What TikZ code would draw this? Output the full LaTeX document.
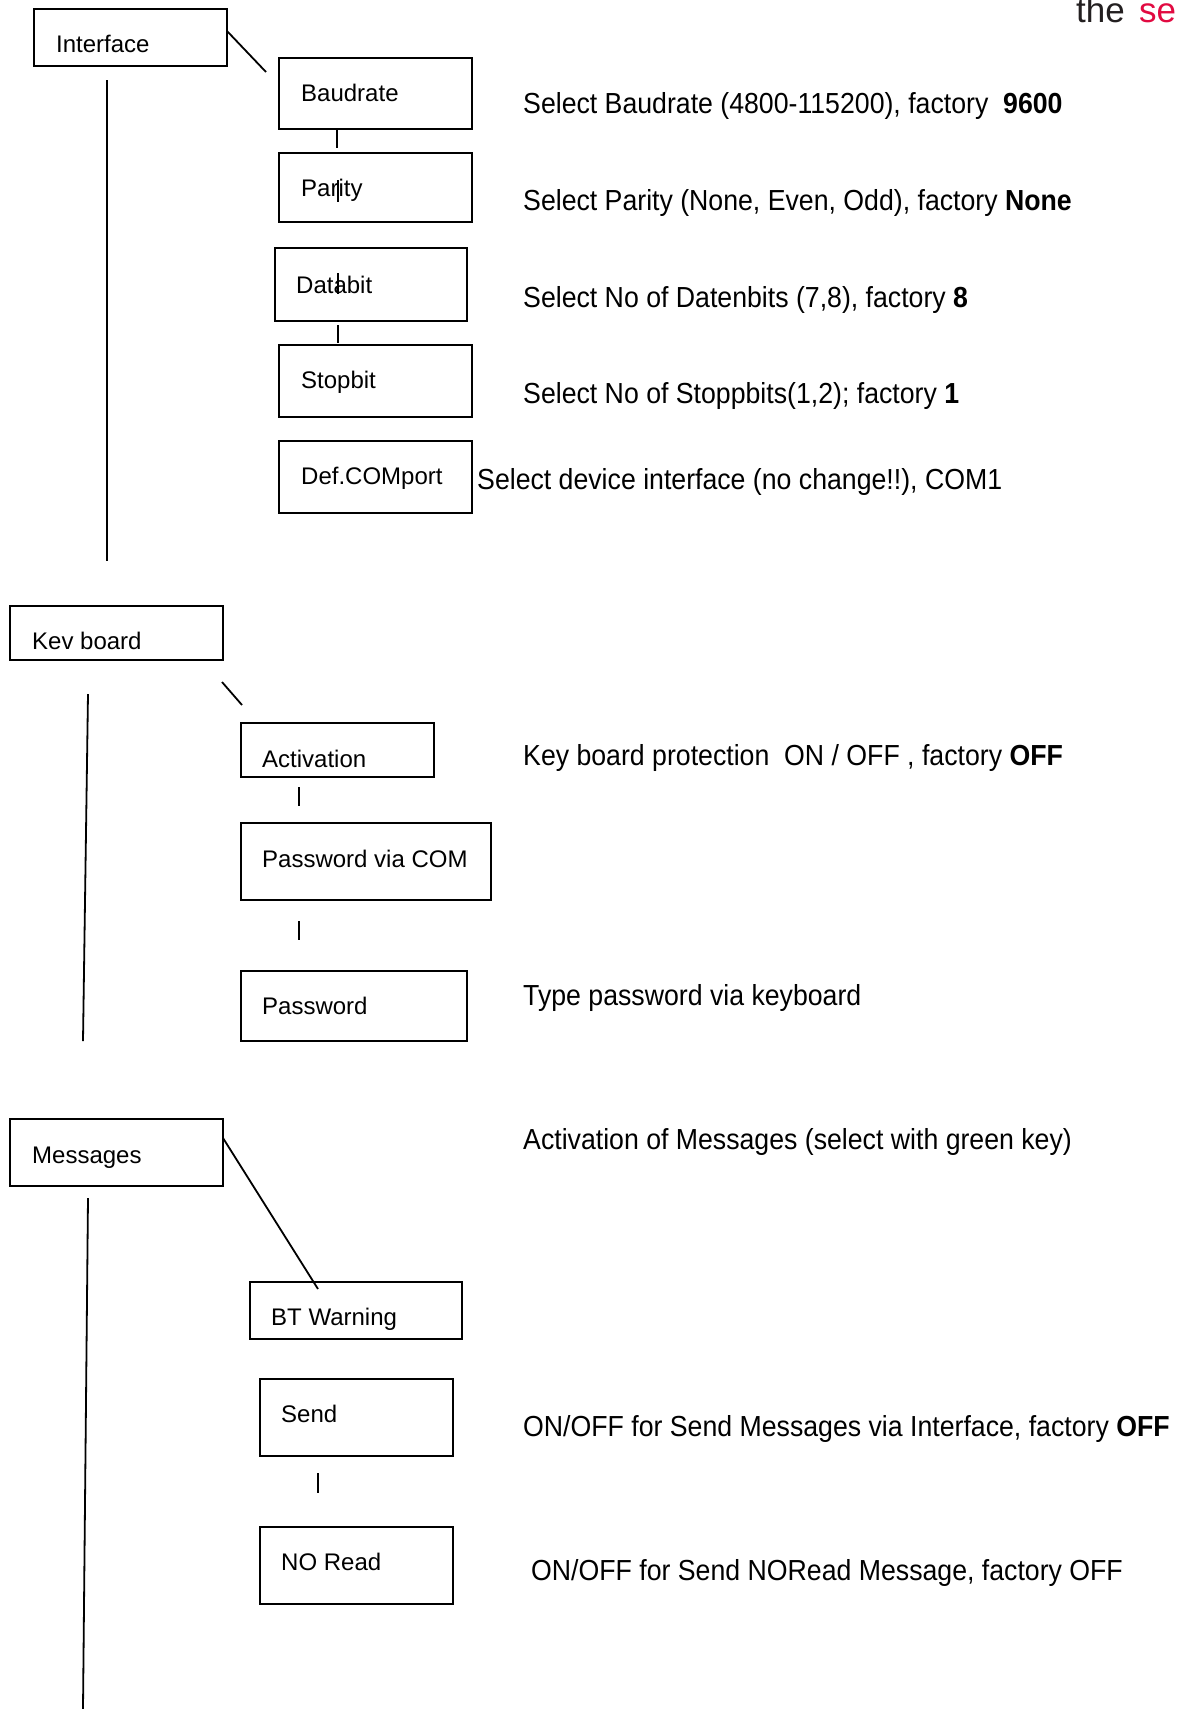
\documentclass[tikz,border=0pt]{standalone}
\usepackage{fontspec}
\setmainfont{Liberation Sans}
\newfontfamily\descfont{Liberation Sans}[FakeStretch=0.92]
\definecolor{logored}{RGB}{225,10,65}
\definecolor{logogray}{RGB}{35,31,32}
\tikzset{
  box/.style={draw, line width=1.8pt, anchor=north west, inner sep=0pt, outer sep=0pt},
  lbl/.style={anchor=base west, inner sep=0pt, font=\fontsize{24}{28}\selectfont},
  desc/.style={anchor=base west, inner sep=0pt, font=\descfont\fontsize{29}{34}\selectfont},
  conn/.style={line width=1.8pt},
}
% name, x1, y1, x2, y2, text x, baseline, text
\newcommand\mybox[8]{%
  \node[box, minimum width={(#4-#2)*1pt}, minimum height={(#5-#3)*1pt}] (#1) at (#2,#3) {};
  \node[lbl] (#1-t) at (#6,#7) {#8};
}
\begin{document}
\begin{tikzpicture}[x=1pt,y=-1pt]
\useasboundingbox (0,0) rectangle (1178,1709);
\clip (0,0) rectangle (1178,1709);

% logo fragment
\node[anchor=base west, inner sep=0pt, text=logogray, font=\fontsize{35}{40}\selectfont] (logo1) at (1076,22) {the};
\node[anchor=base west, inner sep=0pt, text=logored, font=\fontsize{35}{40}\selectfont] (logo2) at (1139,22) {se};

% boxes
\mybox{iface}{34}{9}{227}{66}{56}{52}{Interface}
\mybox{baud}{279}{58}{472}{129}{301}{101}{Baudrate}
\mybox{parity}{279}{153}{472}{222}{301}{196}{Parity}
\mybox{databit}{275}{248}{467}{321}{296}{293}{Databit}
\mybox{stopbit}{279}{345}{472}{417}{301}{388}{Stopbit}
\mybox{comport}{279}{441}{472}{513}{301}{484}{Def.COMport}

\mybox{kev}{10}{606}{223}{660}{32}{649}{Kev board}
\mybox{activ}{241}{723}{434}{777}{262}{767}{Activation}
\mybox{pvc}{241}{823}{491}{900}{262}{867}{Password via COM}
\mybox{pw}{241}{971}{467}{1041}{262}{1014}{Password}

\mybox{msg}{10}{1119}{223}{1186}{32}{1163}{Messages}
\mybox{btw}{250}{1282}{462}{1339}{271}{1325}{BT Warning}
\mybox{send}{260}{1379}{453}{1456}{281}{1422}{Send}
\mybox{noread}{260}{1527}{453}{1604}{281}{1570}{NO Read}

% descriptions
\node[desc] (d1) at (523,113) {Select Baudrate (4800-115200), factory\ \ \textbf{9600}};
\node[desc] (d2) at (523,210) {Select Parity (None, Even, Odd), factory \textbf{None}};
\node[desc] (d3) at (523,307) {Select No of Datenbits (7,8), factory \textbf{8}};
\node[desc] (d4) at (523,403) {Select No of Stoppbits(1,2); factory \textbf{1}};
\node[desc] (d5) at (477,489) {Select device interface (no change!!), COM1};
\node[desc] (d6) at (523,765) {Key board protection\ \ ON / OFF , factory \textbf{OFF}};
\node[desc] (d7) at (523,1005) {Type password via keyboard};
\node[desc] (d8) at (523,1149) {Activation of Messages (select with green key)};
\node[desc] (d9) at (523,1436) {ON/OFF for Send Messages via Interface, factory \textbf{OFF}};
\node[desc] (d10) at (531,1580) {ON/OFF for Send NORead Message, factory OFF};

% free connector ends
\coordinate (ifdiag) at (266,72);
\coordinate (iftop) at (107,80);
\coordinate (ifbot) at (107,561);
\coordinate (bpend) at (337,148);
\coordinate (pt1) at (338,180);
\coordinate (pt2) at (338,202);
\coordinate (dt1) at (338,273);
\coordinate (dt2) at (338,294);
\coordinate (dsend) at (338,343);
\coordinate (kd1) at (222,682);
\coordinate (kd2) at (242,705);
\coordinate (kvtop) at (88,694);
\coordinate (kvbot) at (83,1041);
\coordinate (at1) at (299,787);
\coordinate (at2) at (299,806);
\coordinate (pc1) at (299,921);
\coordinate (pc2) at (299,940);
\coordinate (mdend) at (318,1289);
\coordinate (mvtop) at (88,1198);
\coordinate (mvbot) at (83,1709);
\coordinate (st1) at (318,1473);
\coordinate (st2) at (318,1493);

% connectors
\draw[conn] ([yshift=-22pt]iface.north east) -- (ifdiag);
\draw[conn] (iftop) -- (ifbot);
\draw[conn] ([xshift=-38.5pt]baud.south) -- (bpend);
\draw[conn] (pt1) -- (pt2);
\draw[conn] (dt1) -- (dt2);
\draw[conn] ([xshift=-33pt]databit.south) ++(0,-4pt) -- (dsend);
\draw[conn] (kd1) -- (kd2);
\draw[conn] (kvtop) -- (kvbot);
\draw[conn] (at1) -- (at2);
\draw[conn] (pc1) -- (pc2);
\draw[conn] ([yshift=-19pt]msg.north east) -- (mdend);
\draw[conn] (mvtop) -- (mvbot);
\draw[conn] (st1) -- (st2);
\end{tikzpicture}
\end{document}
